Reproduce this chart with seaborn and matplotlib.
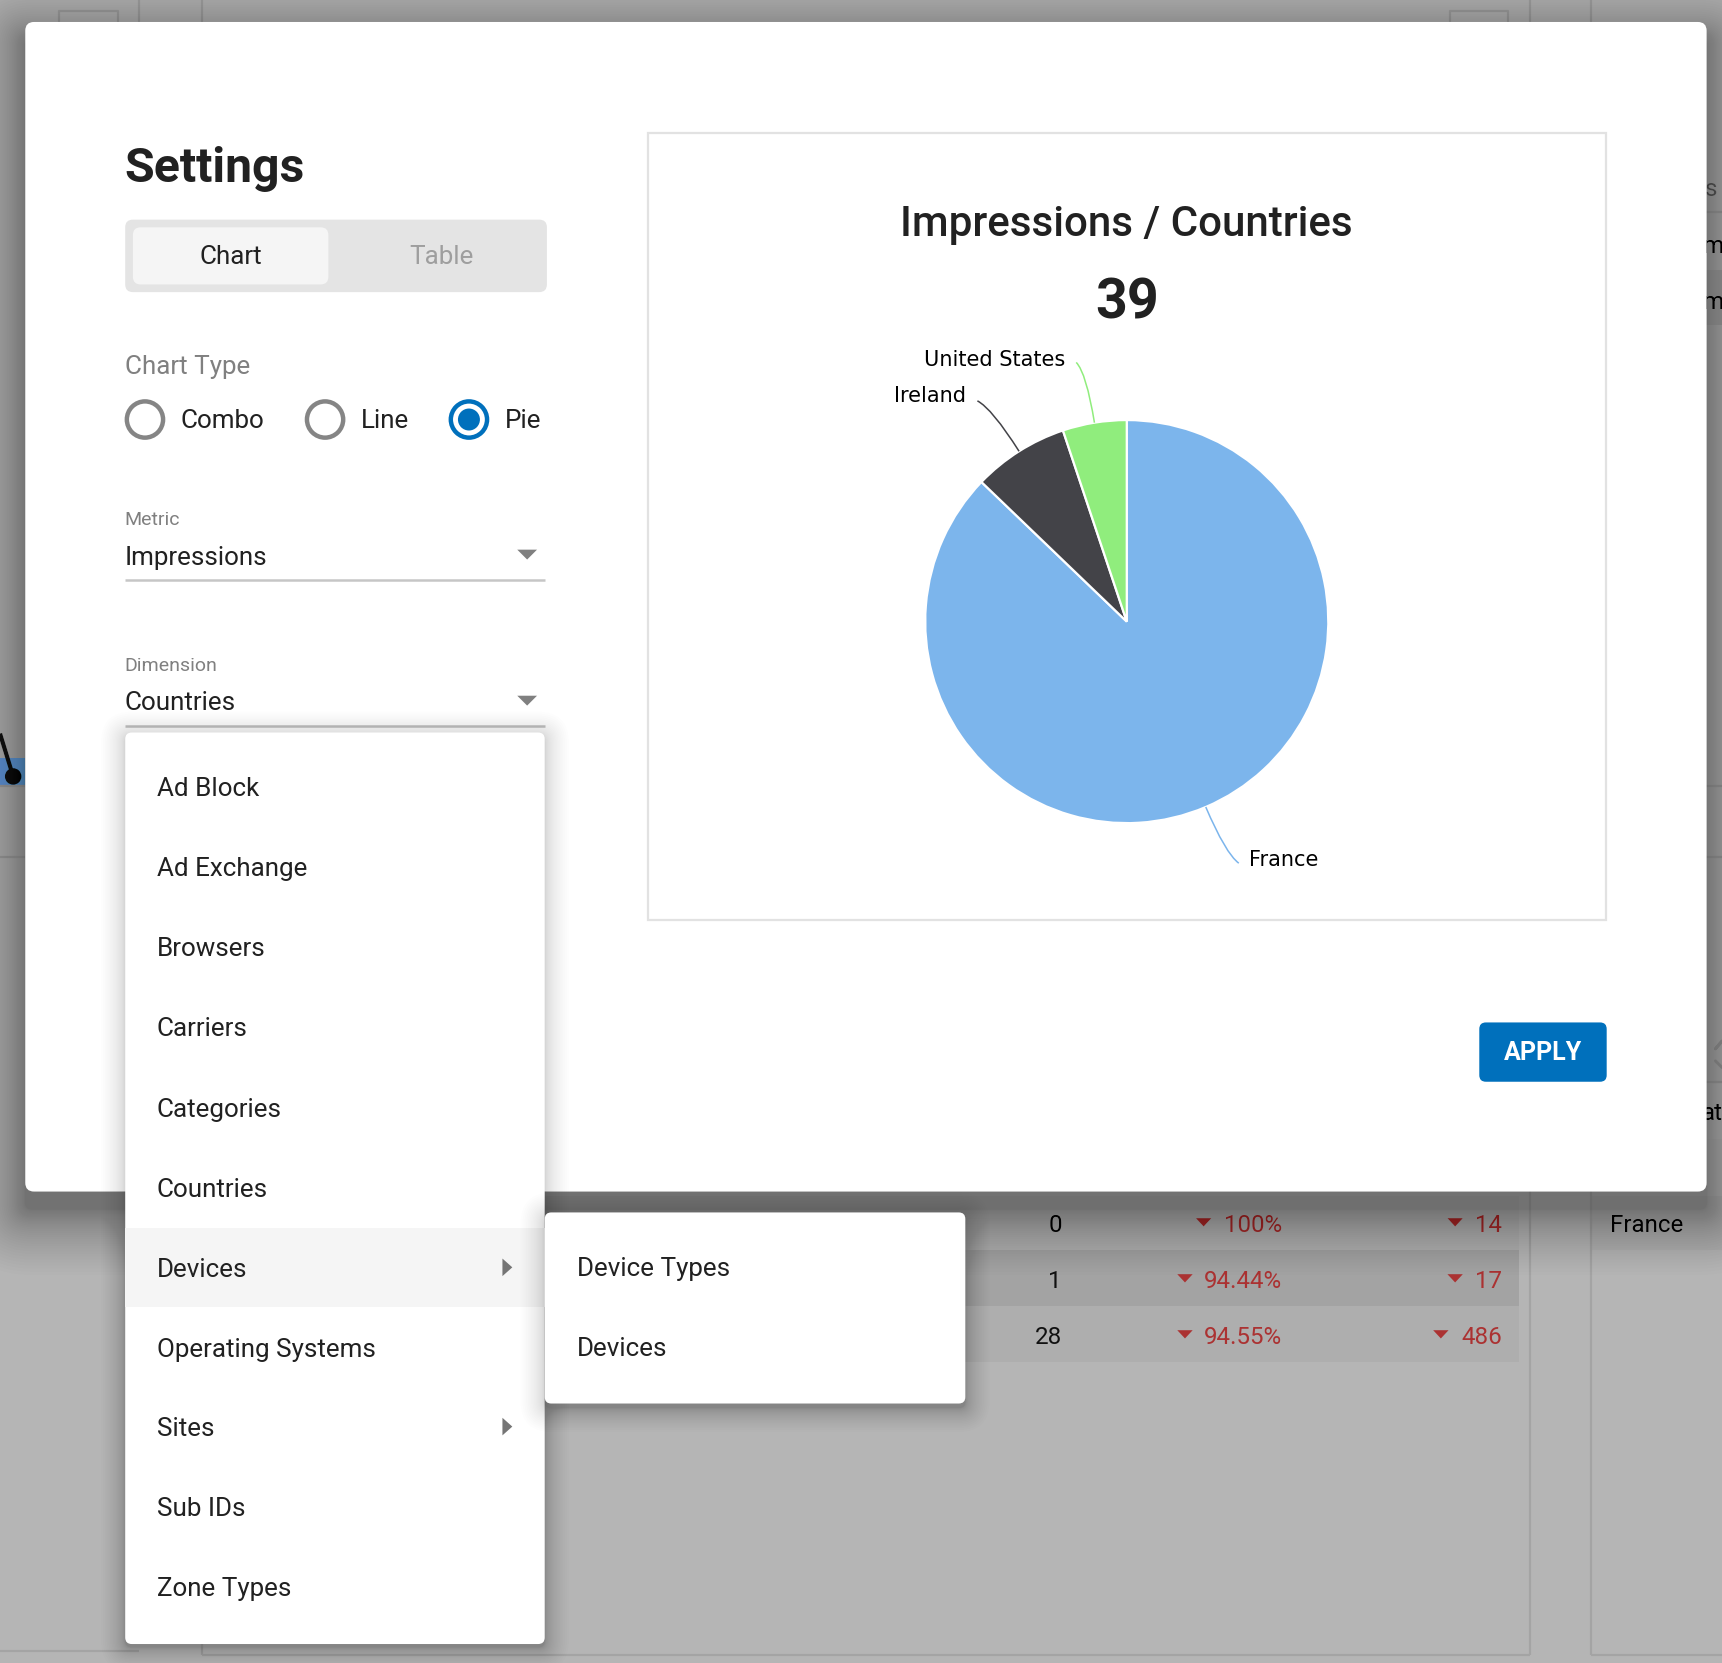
import matplotlib
matplotlib.use("Agg")
import matplotlib.pyplot as plt
import seaborn as sns
from matplotlib.patches import FancyBboxPatch, Rectangle, Circle, Polygon, PathPatch
from matplotlib.path import Path
import numpy as np

# ---------- data ----------
countries = ["France", "Ireland", "United States"]
impressions = [34, 3, 2]
pie_colors = ["#7cb5ec", "#434348", "#90ed7d"]
chart_title = "Impressions / Countries"
chart_total = "39"
menu_items = ["Ad Block", "Ad Exchange", "Browsers", "Carriers", "Categories", "Countries",
              "Devices", "Operating Systems", "Sites", "Sub IDs", "Zone Types"]
sub_items = ["Device Types", "Devices"]
radio_labels = ["Combo", "Line", "Pie"]
table_col1 = ["0", "1", "28"]
table_col2 = ["100%", "94.44%", "94.55%"]
table_col3 = ["14", "17", "486"]

sns.set_theme(style="white")
plt.rcParams["font.family"] = ["Roboto", "DejaVu Sans"]
palette = sns.color_palette(pie_colors)

W, H = 1722, 1663
k = W / 1568
fig = plt.figure(figsize=(W / 100, H / 100), dpi=100, facecolor="#b5b5b5")
ax = fig.add_axes([0, 0, 1, 1])
ax.set_xlim(0, W / k)
ax.set_ylim(H / k, 0)
ax.axis("off")

BODY = 18.7
TABLE = 17.4
DARK = "#212121"
GREY = "#808080"
BLUE = "#0070bc"
EDGE = "#a4a4a4"
RED = "#ab3232"


def rrect(x0, y0, x1, y1, r, color, z, alpha=1.0):
    ax.add_patch(FancyBboxPatch((x0, y0), x1 - x0, y1 - y0,
                                boxstyle=f"round,pad=0,rounding_size={r}",
                                fc=color, ec="none", zorder=z, alpha=alpha))


def shadow(x0, y0, x1, y1, spread, dy, alpha, z, n=24):
    for i in range(n):
        g = spread * (1 - i / n) ** 2
        rrect(x0 - g, y0 - g + dy, x1 + g, y1 + g + dy, 6 + g, "black", z, alpha)


def line(xs, ys, color=EDGE, lw=1.6, z=1):
    ax.plot(xs, ys, color=color, lw=lw, zorder=z, solid_capstyle="butt")


def tri(cx, cy, w, h, color, z, side=False):
    if side:
        pts = [(cx - h / 2, cy - w / 2), (cx - h / 2, cy + w / 2), (cx + h / 2, cy)]
    else:
        pts = [(cx - w / 2, cy - h / 2), (cx + w / 2, cy - h / 2), (cx, cy + h / 2)]
    ax.add_patch(Polygon(pts, closed=True, fc=color, ec="none", zorder=z))


def label(x, y, s, size=BODY, color=DARK, ha="left", weight="normal", z=6, family=None):
    ax.text(x, y, s, fontsize=size, color=color, ha=ha, va="center_baseline",
            fontweight=weight, zorder=z, family=family or ["Roboto", "DejaVu Sans"])


# ---------- dimmed page behind the dialog ----------
ax.add_patch(Rectangle((0, 690), 23, 25, fc="#619ed9", ec="none", zorder=1))
line([0, 12], [668, 707], color="#1f1f1f", lw=3, z=2)
ax.add_patch(Circle((12, 707), 7.5, fc="#1f1f1f", ec="none", zorder=2))
line([0, 23], [716, 716]); line([0, 23], [780, 780])
line([1550, 1568], [716, 716]); line([1550, 1568], [780, 780])
line([54, 54, 107, 107], [22, 10, 10, 22]); line([1320, 1320, 1373, 1373], [22, 10, 10, 22])
line([127, 127], [0, 22]); line([184, 184], [0, 1507])
line([1393, 1393], [0, 1507]); line([1449, 1449], [0, 1507])
line([184, 1393], [1507, 1507]); line([1449, 1568], [1507, 1507]); line([0, 127], [1503, 1503])
line([1550, 1568], [193, 193]); line([1550, 1568], [985, 985])
ax.add_patch(Rectangle((1550, 246), 18, 50, fc="#a8a8a8", ec="none", zorder=0.8))
ax.add_patch(Rectangle((1550, 985), 18, 52, fc="#b8b8b8", ec="none", zorder=0.8))
ax.add_patch(Rectangle((184, 1138), 1199, 51, fc="#a3a3a3", ec="none", zorder=0.8))
ax.add_patch(Rectangle((184, 1189), 1199, 51, fc="#aeaeae", ec="none", zorder=0.8))
ax.add_patch(Rectangle((184, 1089), 1199, 49, fc="#b0b0b0", ec="none", zorder=0.8))
ax.add_patch(Rectangle((1450, 1089), 118, 49, fc="#b0b0b0", ec="none", zorder=0.8))
ax.plot([1562, 1568, 1562], [955, 948, 955], color="#9a9a9a", lw=2, zorder=1)
ax.plot([1562, 1568], [966, 972], color="#9a9a9a", lw=2, zorder=1)
label(1552, 170, "s", size=TABLE, color="#5f5f5f", z=2)
label(1550, 222, "m", size=TABLE, color="#111111", z=2)
label(1550, 273, "m", size=TABLE, color="#111111", z=2)
label(1550, 1012, "at", size=TABLE, color="#111111", z=2)
label(1466, 1114, "France", size=TABLE, color="#111111", z=2)
for i, y in enumerate([1114, 1165, 1216]):
    label(967, y, table_col1[i], size=TABLE, color="#111111", ha="right", z=2)
    label(1167.5, y, table_col2[i], size=TABLE, color=RED, ha="right", z=2)
    label(1367.5, y, table_col3[i], size=TABLE, color=RED, ha="right", z=2)
for x, y in [(1096, 1113), (1079, 1164), (1079, 1215), (1325, 1113), (1325, 1164), (1312, 1215)]:
    tri(x, y, 14, 7.5, RED, 2)

# ---------- dialog ----------
shadow(23, 20, 1554, 1085, 60, 16, 0.007, 3, n=40)
rrect(23, 20, 1554, 1085, 8, "white", 4)
ax.add_patch(Rectangle((590, 121), 872.5, 717, fc="white", ec="#e2e2e2", lw=1.6, zorder=5))

label(113.5, 149.5, "Settings", size=34.7, weight="bold")
rrect(114, 200, 498, 266, 7, "#e4e4e4", 5)
rrect(121, 207, 299, 259, 7, "#f5f5f5", 5.5)
label(210, 232, "Chart", ha="center")
label(402, 232, "Table", ha="center", color="#9e9e9e")
label(113.5, 332, "Chart Type", color=GREY)

for cx, tx, txt in zip([132, 296, 427], [164.5, 329, 460], radio_labels):
    on = txt == "Pie"
    ax.add_patch(Circle((cx, 382), 16.5, fc="white", ec=BLUE if on else "#858585", lw=3.2, zorder=5))
    if on:
        ax.add_patch(Circle((cx, 382), 10, fc=BLUE, ec="none", zorder=6))
    label(tx, 381, txt)

label(113.5, 472, "Metric", size=14, color=GREY)
label(113.5, 505.5, "Impressions")
line([114, 496], [528.5, 528.5], color="#c6c6c6", lw=1.8, z=5)
tri(480, 505, 18, 9, "#808080", 6)
label(113.5, 605, "Dimension", size=14, color=GREY)
label(113.5, 638, "Countries")
line([114, 496], [661.5, 661.5], color="#c6c6c6", lw=1.8, z=5)
tri(480, 638, 18, 9, "#808080", 6)

label(1026, 200.5, chart_title, size=30.3, ha="center", weight=500)
label(1026, 271, chart_total, size=40, ha="center", weight="bold")

rrect(1347, 931, 1463, 985, 6, BLUE, 6)
label(1405, 957, "APPLY", size=18, color="white", ha="center", weight="bold", z=7)

# ---------- dropdown menus ----------
shadow(114, 667, 496, 1497, 22, 3, 0.006, 8, n=24)
rrect(114, 667, 496, 1497, 6, "white", 9)
ax.add_patch(Rectangle((114, 1118), 382, 72, fc="#f5f5f5", ec="none", zorder=9.5))
for y, t in zip([716, 789, 862, 935, 1008, 1081, 1154, 1227, 1299, 1372, 1445], menu_items):
    label(142.7, y, t, z=10)
    if t in ("Devices", "Sites"):
        tri(462, y, 16, 9, "#757575", 10, side=True)
shadow(496, 1104, 879, 1278, 22, 4, 0.008, 10.5, n=24)
rrect(496, 1104, 879, 1278, 6, "white", 11)
for y, t in zip([1154, 1227], sub_items):
    label(525.5, y - 0.5, t, z=12)

# ---------- the pie ----------
PCX, PCY, PR = 1026, 566, 183.5
pax = fig.add_axes([(PCX - PR) * k / W, 1 - (PCY + PR) * k / H, 2 * PR * k / W, 2 * PR * k / H], zorder=5)
wedges, _ = pax.pie(impressions, colors=palette, startangle=90, counterclock=False, radius=1,
                    wedgeprops=dict(edgecolor="white", linewidth=1.6))
pax.set_xlim(-1, 1)
pax.set_ylim(-1, 1)
pax.set_clip_on(False)
for w in wedges:
    w.set_clip_on(False)

label_ends = {"France": (1128, 786), "Ireland": (890, 365), "United States": (980, 330)}
label_pos = {"France": (1137, 781, "left"), "Ireland": (880, 359, "right"), "United States": (970, 326, "right")}
for w, name, col in zip(wedges, countries, palette):
    mid = np.deg2rad((w.theta1 + w.theta2) / 2)
    rim = np.array([np.cos(mid), np.sin(mid)])
    ex, ey = label_ends[name]
    end = np.array([(ex - PCX) / PR, (PCY - ey) / PR])
    path = Path([rim, rim * 1.25, end], [Path.MOVETO, Path.CURVE3, Path.CURVE3])
    pax.add_patch(PathPatch(path, fc="none", ec=col, lw=1.1, clip_on=False))
    tx, ty, ha = label_pos[name]
    label(tx, ty, name, size=15, color="black", ha=ha, family=["DejaVu Sans"], z=7)

fig.savefig("out.png", dpi=100, facecolor=fig.get_facecolor())
